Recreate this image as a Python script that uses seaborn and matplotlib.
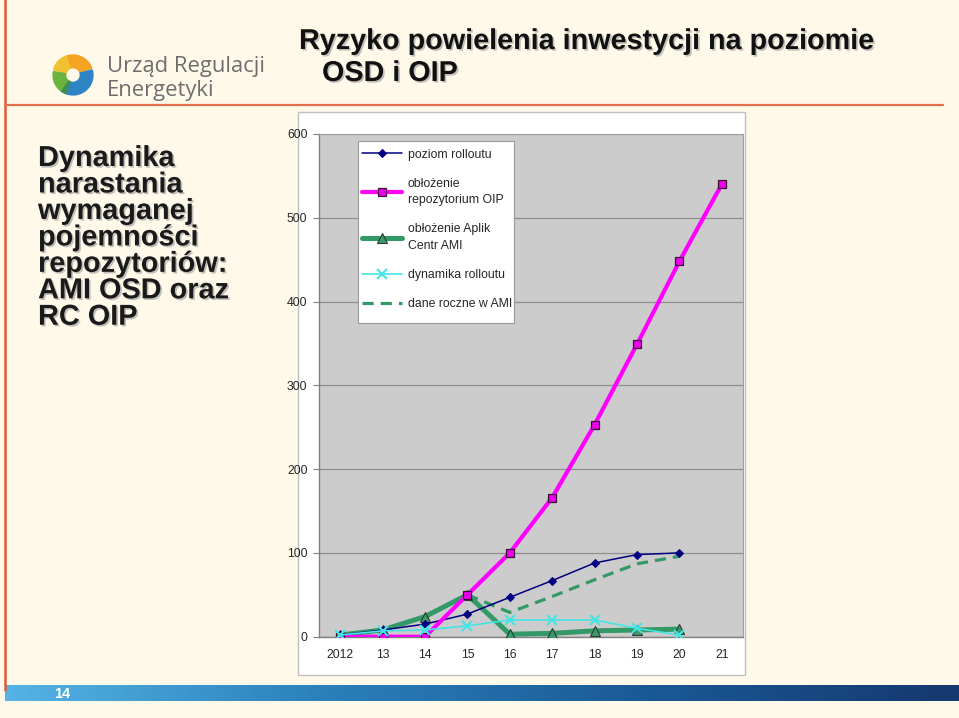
import numpy as np
import matplotlib
matplotlib.use("Agg")
import matplotlib.pyplot as plt
import matplotlib.patheffects as pe
from matplotlib.patches import Rectangle, Wedge
from matplotlib.colors import LinearSegmentedColormap
import seaborn as sns

# ---- data ----
years = ["2012", "13", "14", "15", "16", "17", "18", "19", "20", "21"]
poziom_rolloutu = [2, 8, 15, 27, 47, 67, 88, 98, 100, np.nan]
oblozenie_oip = [0, 0, 0, 50, 100, 166, 253, 349, 448, 540]
oblozenie_ami = [2, 8, 24, 50, 3, 4, 7, 8, 9, np.nan]
dynamika_rolloutu = [2, 7, 8, 13, 20, 20, 20, 10, 2, np.nan]
dane_roczne_ami = [np.nan, np.nan, np.nan, 50, 29, 48, 68, 87, 96, np.nan]
series_labels = ["poziom rolloutu", "obłożenie\nrepozytorium OIP",
                 "obłożenie Aplik\nCentr AMI", "dynamika rolloutu",
                 "dane roczne w AMI"]
y_ticks = [0, 100, 200, 300, 400, 500, 600]

title_lines = ["Ryzyko powielenia inwestycji na poziomie", "OSD i OIP"]
side_text = "Dynamika\nnarastania\nwymaganej\npojemności\nrepozytoriów:\nAMI OSD oraz\nRC OIP"
logo_text = "Urząd Regulacji\nEnergetyki"
page_no = "14"

sns.set_style("white")
plt.rcParams["font.family"] = ["Liberation Sans", "DejaVu Sans"]

W, H = 959, 718
BG = "#FFF9EA"
fig = plt.figure(figsize=(W / 100, H / 100), dpi=100, facecolor=BG)

def fx(x):
    return x / W

def fy(y):
    return 1 - y / H

# decorative lines
fig.add_artist(plt.Line2D([fx(5), fx(5)], [fy(0), fy(690)], color="#E2573A", lw=1.8))
fig.add_artist(plt.Line2D([fx(5), fx(943)], [fy(105), fy(105)], color="#E2704E", lw=1.6))

# chart box
fig.patches.append(Rectangle((fx(298), fy(675)), fx(745) - fx(298), fy(112) - fy(675),
                             transform=fig.transFigure, fc="white", ec="#C0C0C0",
                             lw=1, zorder=-5))

# ---- title ----
shadow = [pe.withSimplePatchShadow(offset=(1.2, -1.2), shadow_rgbFace="#999999", alpha=0.6)]
fig.text(fx(299), fy(41), title_lines[0], ha="left", va="center", fontsize=20.7,
         fontweight="bold", color="#111111", path_effects=shadow)
fig.text(fx(322), fy(73), title_lines[1], ha="left", va="center", fontsize=20.7,
         fontweight="bold", color="#111111", path_effects=shadow)
fig.text(fx(38), fy(144), side_text, ha="left", va="top", fontsize=20.8,
         fontweight="bold", color="#1a1a1a", linespacing=0.93, path_effects=shadow)

# ---- logo ----
lax = fig.add_axes([fx(52), fy(96), fx(42), fy(54) - fy(96)])
lax.set_xlim(-1, 1)
lax.set_ylim(-1, 1)
lax.set_aspect("equal")
lax.axis("off")
ring = 0.6
lax.add_patch(Wedge((0, 0), 0.95, 20, 160, width=ring, color="#F4A322"))
lax.add_patch(Wedge((0, 0), 0.95, 110, 165, width=ring, color="#F2C131"))
lax.add_patch(Wedge((0, 0), 0.95, -115, 15, width=ring, color="#2F84C6"))
lax.add_patch(Wedge((0, 0), 0.95, 170, 240, width=ring, color="#6CB33F"))
lax.add_patch(Wedge((0, 0), 0.95, 235, 250, width=ring, color="#3C8F5A"))
fig.text(fx(107), fy(56), logo_text, ha="left", va="top", fontsize=15.8,
         family=["Open Sans", "DejaVu Sans"], color="#6E6E6E", linespacing=1.2)

# ---- footer ----
fax = fig.add_axes([fx(5), fy(701), fx(959) - fx(5), fy(685) - fy(701)])
cmap = LinearSegmentedColormap.from_list("bar", ["#55B3E6", "#2B80BA", "#1A5A98", "#15386E"])
fax.imshow(np.linspace(0, 1, 256)[None, :], aspect="auto", cmap=cmap, extent=(0, 1, 0, 1))
fax.axis("off")
fig.text(fx(62), fy(694), page_no, ha="center", va="center", fontsize=10.5,
         fontweight="bold", color="white")

# ---- chart ----
ax_l, ax_b, ax_r, ax_t = 319, 636.7, 743, 134
ax = fig.add_axes([fx(ax_l), fy(ax_b), fx(ax_r) - fx(ax_l), fy(ax_t) - fy(ax_b)])
ax.set_facecolor("#CCCCCC")
pos = np.arange(len(years))

sns.lineplot(x=pos, y=poziom_rolloutu, ax=ax, color="#000080", lw=1.1, marker="D",
             markersize=4.5, markeredgecolor="#000080", markerfacecolor="#000080",
             label=series_labels[0], zorder=4)
sns.lineplot(x=pos, y=oblozenie_oip, ax=ax, color="#FF00FF", lw=3, marker="s",
             markersize=5.2, markeredgecolor="#3a1030", markeredgewidth=0.9,
             markerfacecolor="#EE00EE", label=series_labels[1], zorder=5)
sns.lineplot(x=pos, y=oblozenie_ami, ax=ax, color="#339966", lw=3.6, marker="^",
             markersize=6.5, markeredgecolor="#2a3a30", markeredgewidth=0.8,
             markerfacecolor="#3C9A6A", label=series_labels[2], zorder=3)
sns.lineplot(x=pos, y=dynamika_rolloutu, ax=ax, color="#44E5E5", lw=1.2, marker="x",
             markersize=6.5, markeredgecolor="#44E5E5", markeredgewidth=1.5,
             label=series_labels[3], zorder=6)
sns.lineplot(x=pos, y=dane_roczne_ami, ax=ax, color="#339966", lw=2.3,
             linestyle=(0, (3.5, 2.2)), label=series_labels[4], zorder=2)

ax.set_xlim(-0.5, len(years) - 0.5)
ax.set_ylim(0, 600)
ax.set_yticks(y_ticks)
ax.set_yticklabels([str(v) for v in y_ticks], fontsize=8.8)
ax.set_xticks(pos)
ax.set_xticklabels(years, fontsize=8.8)
ax.set_xticks(np.arange(-0.5, len(years)), minor=True)
ax.tick_params(axis="x", which="major", length=0, pad=8.5)
ax.tick_params(axis="x", which="minor", length=4, color="#808080", direction="out")
ax.tick_params(axis="y", which="major", length=4.3, color="#808080", direction="out", pad=4, left=True)
ax.yaxis.grid(True, color="#8F8F8F", lw=0.9)
ax.xaxis.grid(False)
ax.set_axisbelow(True)
for side in ["left", "bottom"]:
    ax.spines[side].set_color("#808080")
    ax.spines[side].set_linewidth(1)
for side in ["top", "right"]:
    ax.spines[side].set_color("#A0A0A0")
    ax.spines[side].set_linewidth(0.8)
ax.set_xlabel("")
ax.set_ylabel("")

# legend box (frame drawn separately to match the reference proportions)
box_l, box_t, box_r, box_b = 358, 141, 514, 323
frame = Rectangle((fx(box_l), fy(box_b)), fx(box_r) - fx(box_l), fy(box_t) - fy(box_b),
                  transform=fig.transFigure, fc="white", ec="#9A9A9A", lw=0.8, zorder=9)
ax.add_artist(frame)
frame.set_clip_on(False)
leg = ax.legend(loc="upper left",
                bbox_to_anchor=((box_l - ax_l) / (ax_r - ax_l), (ax_b - 145) / (ax_b - ax_t)),
                borderaxespad=0, frameon=False, fontsize=8.8,
                handlelength=3.3, handletextpad=0.45, labelspacing=1.4, borderpad=0.3)
for t in leg.get_texts():
    t.set_linespacing(1.5)
leg.set_zorder(10)

fig.savefig("out.png", dpi=100, facecolor=BG)
